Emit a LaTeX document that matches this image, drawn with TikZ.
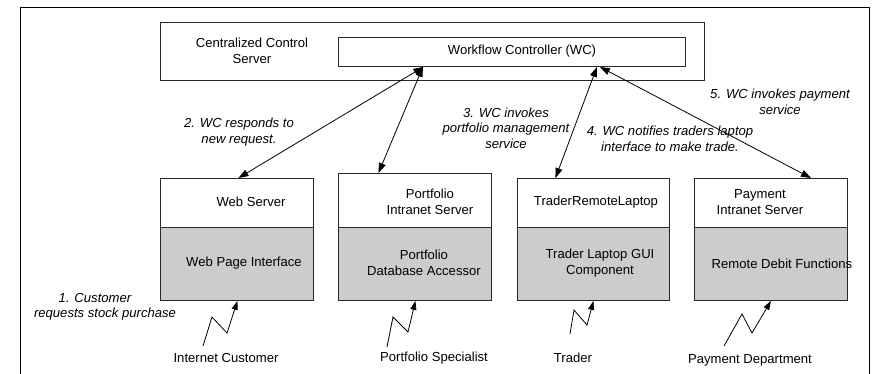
\documentclass[tikz,border=0pt]{standalone}
\usepackage{fontspec}
\setmainfont{Liberation Sans}
\usetikzlibrary{arrows.meta,calc}

\begin{document}
\begin{tikzpicture}[x=1pt,y=-1pt,
  box/.style={draw=black!85, line width=0.9pt, inner sep=0pt, anchor=north west},
  lower/.style={box, fill=black!20},
  txt/.style={align=center, inner sep=0pt, font=\fontsize{13.1}{15.5}\selectfont},
  note/.style={txt, font=\fontsize{13.1}{15.5}\selectfont\itshape},
  link/.style={line width=0.8pt, {Triangle[length=10pt,width=7pt]}-{Triangle[length=10pt,width=7pt]}},
  bolt/.style={line width=0.8pt, -{Triangle[length=9pt,width=6pt]}}
]
\useasboundingbox (0,0) rectangle (873,373);

% outer frame, open at the bottom
\draw[line width=1pt] (20,380) -- (20,7) -- (869,7) -- (869,380);

% central server and the workflow controller
\node[box, minimum width=544pt, minimum height=58pt] (ccs) at (160,22) {};
\node[box, minimum width=347pt, minimum height=29pt] (wc) at (338,37) {};
\node[txt] (ccslbl) at (252,51) {Centralized Control\\Server};
\node[txt] (wclbl) at (522,51) {Workflow Controller (WC)};

% servers: white header over grey component
\node[box, minimum width=153pt, minimum height=49pt] (webtop) at (160,178) {};
\node[lower, minimum width=153pt, minimum height=73pt] (webbot) at (160,227) {};
\node[box, minimum width=153pt, minimum height=54pt] (porttop) at (338,173) {};
\node[lower, minimum width=153pt, minimum height=73pt] (portbot) at (338,227) {};
\node[box, minimum width=152pt, minimum height=49pt] (tradtop) at (517,178) {};
\node[lower, minimum width=152pt, minimum height=73pt] (tradbot) at (517,227) {};
\node[box, minimum width=153pt, minimum height=49pt] (paytop) at (694,178) {};
\node[lower, minimum width=153pt, minimum height=73pt] (paybot) at (694,227) {};

\node[txt] (weblbl) at (251,202) {Web Server};
\node[txt] (webcomp) at (244,263) {Web Page Interface};
\node[txt] (portlbl) at (430,202) {Portfolio\\Intranet Server};
\node[txt] (portcomp) at (424,263) {Portfolio\\Database Accessor};
\node[txt] (tradlbl) at (596,202) {TraderRemoteLaptop};
\node[txt] (tradcomp) at (600,263) {Trader Laptop GUI\\Component};
\node[txt] (paylbl) at (760,202) {Payment\\Intranet Server};
\node[txt] (paycomp) at (782,264) {Remote Debit Functions};

% actors
\node[txt] (cust) at (226,358) {Internet Customer};
\node[txt] (spec) at (434,358) {Portfolio Specialist};
\node[txt] (trader) at (573,358) {Trader};
\node[txt] (paydep) at (750,360) {Payment Department};

% step notes
\node[note] (n1) at (105,307) {1. Customer\kern20pt\\requests stock purchase};
\node[note] (n2) at (239,132) {2. WC responds to\\new request.};
\node[note] (n3) at (506,128) {3. WC invokes\\portfolio management\\service};
\node[note] (n4) at (670,139) {4. WC notifies traders laptop\\interface to make trade.};
\node[note] (n5) at (780,102) {5. WC invokes payment\\service};

% controller links
\draw[link] ([xshift=-88.5pt]wc.south) -- ([xshift=1.5pt]webtop.north);
\draw[link] ([xshift=-89pt]wc.south) -- ([xshift=-36.5pt]porttop.north);
\draw[link] ([xshift=85pt]wc.south) -- ([xshift=-38pt]tradtop.north);
\draw[link] ([xshift=88pt]wc.south) -- ([xshift=40pt]paytop.north);

% actor connections
\coordinate (c1) at (203,346);
\coordinate (c2) at (387,347);
\coordinate (c3) at (570,334);
\coordinate (c4) at (724,346);
\draw[bolt] (c1) -- (212,317) -- (227,333) -- ([xshift=0.5pt]webbot.south);
\draw[bolt] (c2) -- (393,317) -- (408,332) -- ([xshift=0.5pt]portbot.south);
\draw[bolt] (c3) -- (574,310) -- (587,325) -- (tradbot.south);
\draw[bolt] (c4) -- (742,314) -- (752,333) -- (paybot.south);
\end{tikzpicture}
\end{document}
